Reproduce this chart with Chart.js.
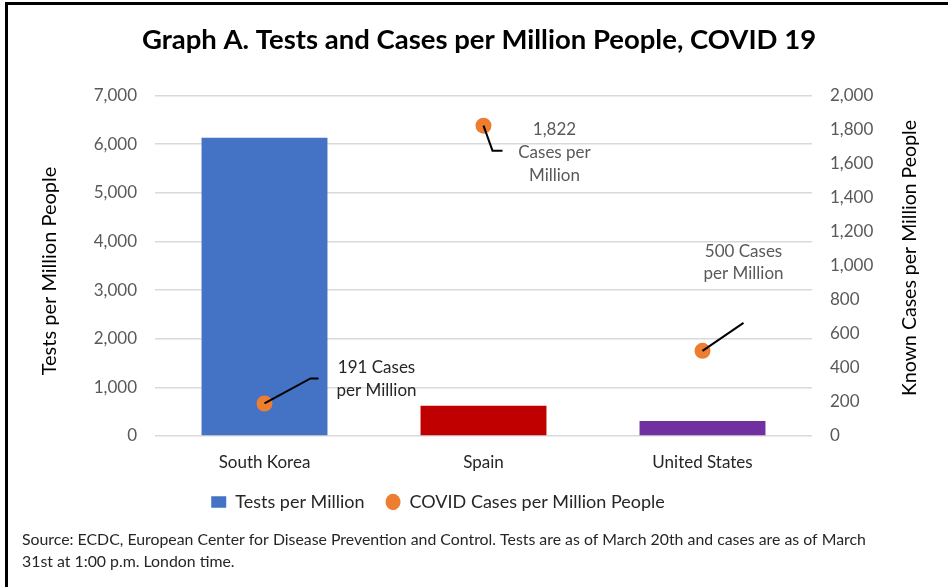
<!DOCTYPE html>
<html><head><meta charset="utf-8">
<script src="https://cdn.jsdelivr.net/npm/chart.js@4/dist/chart.umd.min.js"></script>
<style>html,body{margin:0;padding:0;background:#fff}</style>
</head><body>
<canvas id="c" width="948" height="587"></canvas>
<script>
const categories = ['South Korea', 'Spain', 'United States'];
const testsPerMillion = [6130, 620, 310];
const casesPerMillion = [191, 1822, 500];
const caseLabels = [['191 Cases', 'per Million'], ['1,822', 'Cases per', 'Million'], ['500 Cases', 'per Million']];
const barColors = ['#4472C4', '#C00000', '#7030A0'];
const seriesNames = ['Tests per Million', 'COVID Cases per Million People'];
const leftAxisMax = 7000, leftAxisStep = 1000;
const rightAxisMax = 2000, rightAxisStep = 200;
const chartTitle = 'Graph A. Tests and Cases per Million People, COVID 19';
const leftAxisTitle = 'Tests per Million People';
const rightAxisTitle = 'Known Cases per Million People';
const sourceLines = ['Source: ECDC, European Center for Disease Prevention and Control. Tests are as of March 20th and cases are as of March', '31st at 1:00 p.m. London time.'];

const FONT = 'Lato, "Open Sans", sans-serif';

// label/leader placement (offsets from each point, in px)
const labelStyle = [
  {line: [[46, -25], [54, -25]], dx: 112, dy: [-36, -13], color: '#262626'},
  {line: [[9, 25], [19, 25]], dx: 71, dy: [4, 27, 50], color: '#595959'},
  {line: [[41, -28]], dx: 41, dy: [-99, -77], color: '#595959'}
];

const decor = {
  id: 'decor',
  afterLayout(chart) {
    const lg = chart.legend;
    if (lg) { lg.left -= 36; lg.right -= 36; }
    const tb = chart.titleBlock;
    if (tb) { tb.left += 5; tb.right += 5; }
  },
  beforeDraw(chart) {
    const ctx = chart.ctx;
    ctx.save();
    ctx.fillStyle = '#fff';
    ctx.fillRect(0, 0, chart.width, chart.height);
    ctx.fillStyle = '#000';
    ctx.fillRect(5, 2, chart.width - 5, 3);
    ctx.fillRect(5, 2, 3, chart.height - 2);
    ctx.restore();
  },
  afterDraw(chart) {
    const ctx = chart.ctx;
    ctx.save();
    ctx.fillStyle = '#000';
    ctx.font = '20px ' + FONT;
    ctx.textAlign = 'center';
    ctx.textBaseline = 'middle';
    ctx.translate(50, 271);
    ctx.rotate(-Math.PI / 2);
    ctx.fillText(leftAxisTitle, 0, 0);
    ctx.restore();
    ctx.save();
    ctx.fillStyle = '#000';
    ctx.font = '19.5px ' + FONT;
    ctx.textAlign = 'center';
    ctx.textBaseline = 'middle';
    ctx.translate(910, 258);
    ctx.rotate(-Math.PI / 2);
    ctx.fillText(rightAxisTitle, 0, 0);
    ctx.restore();

    // source note
    ctx.save();
    ctx.fillStyle = '#262626';
    ctx.font = '15.85px ' + FONT;
    ctx.textAlign = 'left';
    ctx.textBaseline = 'middle';
    sourceLines.forEach((t, k) => ctx.fillText(t, 22, 540 + k * 22));
    ctx.restore();

    const meta = chart.getDatasetMeta(0);
    ctx.save();
    meta.data.forEach((pt, i) => {
      const s = labelStyle[i];
      ctx.strokeStyle = '#000';
      ctx.lineWidth = 2;
      ctx.beginPath();
      ctx.moveTo(pt.x, pt.y);
      s.line.forEach(([dx, dy]) => ctx.lineTo(pt.x + dx, pt.y + dy));
      ctx.stroke();
      ctx.fillStyle = s.color;
      ctx.font = '17px ' + FONT;
      ctx.textAlign = 'center';
      ctx.textBaseline = 'middle';
      caseLabels[i].forEach((t, k) => ctx.fillText(t, pt.x + s.dx, pt.y + s.dy[k]));
    });
    ctx.restore();
  }
};

new Chart(document.getElementById('c'), {
  data: {
    labels: categories,
    datasets: [
      {
        type: 'line', label: seriesNames[1], data: casesPerMillion, yAxisID: 'y2',
        showLine: false, pointRadius: 8, pointHoverRadius: 8, pointStyle: 'circle',
        backgroundColor: '#ED7D31', borderColor: '#ED7D31', borderWidth: 0, order: 0
      },
      {
        type: 'bar', label: seriesNames[0], data: testsPerMillion, yAxisID: 'y', pointStyle: 'rect',
        backgroundColor: barColors, borderWidth: 0, barPercentage: 0.575, categoryPercentage: 1, order: 1
      }
    ]
  },
  options: {
    responsive: false,
    animation: false,
    events: [],
    layout: {padding: {left: 0, right: 0, top: 0, bottom: 66}},
    plugins: {
      title: {
        display: true, text: chartTitle, color: '#000',
        font: {family: FONT, size: 27.5, weight: 'bold'}, padding: {top: 24, bottom: 38.4}
      },
      legend: {
        position: 'bottom', reverse: true,
        labels: {
          usePointStyle: true, boxHeight: 11.5, pointStyleWidth: 15, padding: 21, color: '#262626',
          font: {family: FONT, size: 18}
        }
      },
      tooltip: {enabled: false}
    },
    scales: {
      x: {
        grid: {display: false, drawTicks: false}, border: {display: false},
        ticks: {color: '#262626', font: {family: FONT, size: 17}, padding: 16},
        afterFit(s) { s.height = 36; }
      },
      y: {
        position: 'left', min: 0, max: leftAxisMax,
        grid: {color: '#d9d9d9', lineWidth: 1.5, drawTicks: false}, border: {display: false},
        ticks: {stepSize: leftAxisStep, color: '#595959', font: {family: FONT, size: 17}, padding: 18},
        afterFit(s) { s.width = 155; }
      },
      y2: {
        position: 'right', min: 0, max: rightAxisMax,
        grid: {display: false, drawTicks: false}, border: {display: false},
        ticks: {stepSize: rightAxisStep, color: '#595959', font: {family: FONT, size: 17}, padding: 18},
        afterFit(s) { s.width = 136; }
      }
    }
  },
  plugins: [decor]
});
</script>
</body></html>
